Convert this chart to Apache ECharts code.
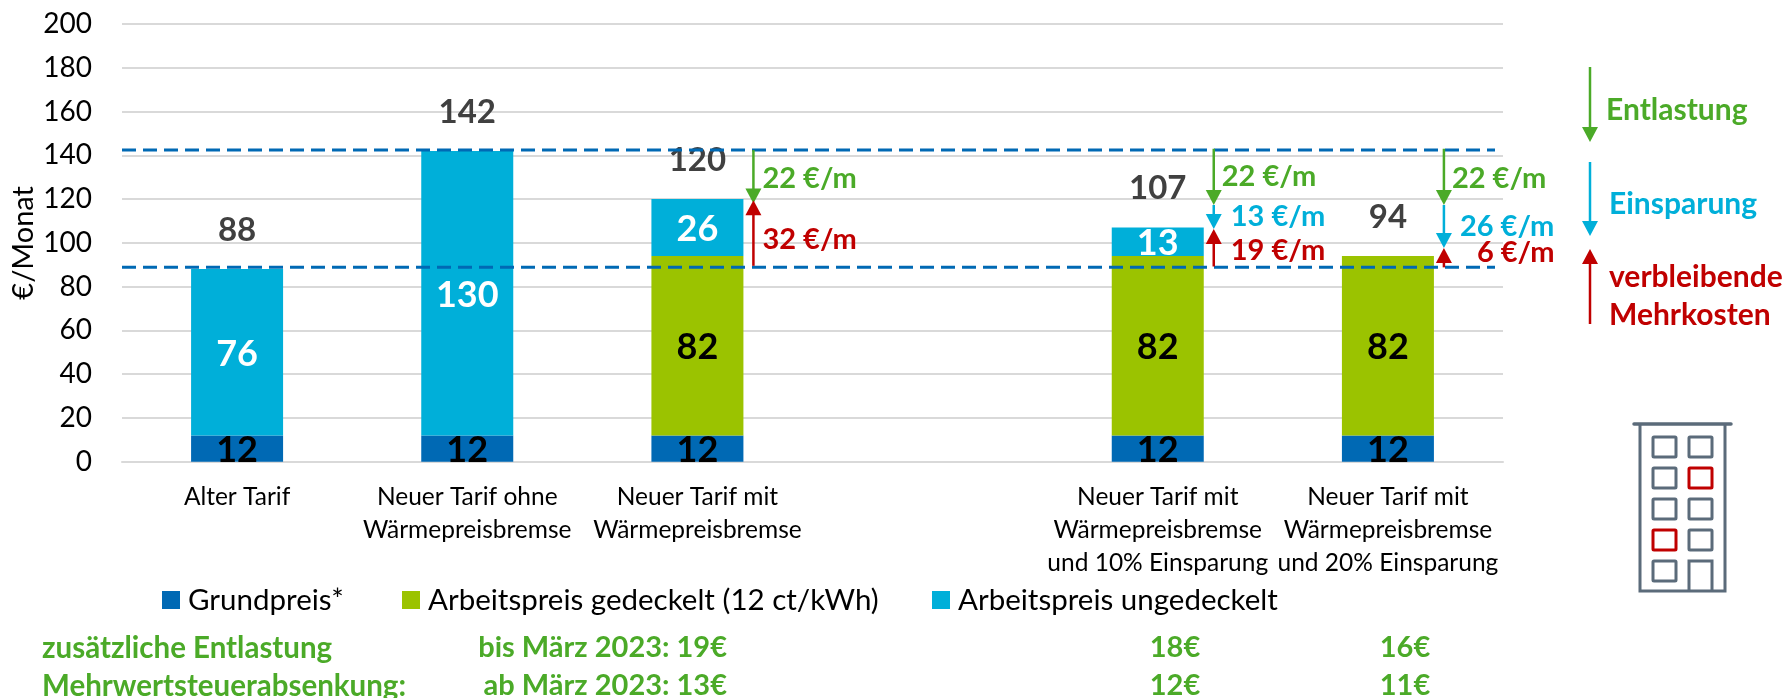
<!DOCTYPE html>
<html>
<head>
<meta charset="utf-8">
<style>
  html, body { margin: 0; padding: 0; background: #fff; }
  #chart { width: 1787px; height: 698px; }
</style>
</head>
<body>
<div id="chart"></div>
<script src="https://cdn.jsdelivr.net/npm/echarts@6/dist/echarts.min.js"></script>
<script>
// data
const categories = [
  'Alter Tarif',
  'Neuer Tarif ohne\nWärmepreisbremse',
  'Neuer Tarif mit\nWärmepreisbremse',
  '',
  'Neuer Tarif mit\nWärmepreisbremse\nund 10% Einsparung',
  'Neuer Tarif mit\nWärmepreisbremse\nund 20% Einsparung'
];
const grundpreis = [12, 12, 12, null, 12, 12];
const gedeckelt = [null, null, 82, null, 82, 82];
const ungedeckelt = [76, 130, 26, null, 13, null];
const totals = [88, 142, 120, null, 107, 94];
const yTicks = [0, 200, 20];
const refLines = [142.4, 88.9];

const arrowCats = [2, 2, 4, 4, 4, 5, 5, 5];
const arrowFrom = [142.4, 89.5, 143, 117.3, 89.2, 143, 117.3, 88.8];
const arrowTo = [118, 119.5, 117.3, 106.3, 106.3, 117.3, 97.6, 97.6];
const arrowKinds = ['e', 'm', 'e', 's', 'm', 'e', 's', 'm'];
const arrowTexts = ['22 €/m', '32 €/m', '22 €/m', '13 €/m', '19 €/m', '22 €/m', '26 €/m', '6 €/m'];

const reliefRow1 = ['bis März 2023: 19€', '18€', '16€'];
const reliefRow2 = ['ab März 2023: 13€', '12€', '11€'];

const FONT = 'Lato';
const GREEN = '#4BAA28', CYAN = '#00AFD9', RED = '#C00000', SLATE = '#5B6B7A';
const kindColor = { e: GREEN, s: CYAN, m: RED };

// layout of the arrow captions: dx from bar centre, dy from arrow middle
const captionDx = [65, 65, 64, 73, 73, 64, 72, 89];
const captionDy = [2, 7, 0, 0, 3, 2, 0, -5];

function arrowShape(x, y1, y2, color) {
  const dir = y2 > y1 ? 1 : -1;
  return [
    { type: 'line', shape: { x1: x, y1: y1, x2: x, y2: y2 - dir * 12 }, style: { stroke: color, lineWidth: 2.5 } },
    { type: 'polygon', shape: { points: [[x - 8, y2 - dir * 15], [x + 8, y2 - dir * 15], [x, y2]] }, style: { fill: color } }
  ];
}

function barLabel(color) {
  return { show: true, position: 'inside', offset: [0, 2], color: color, fontFamily: FONT, fontWeight: 'bold', fontSize: 36 };
}

function gText(text, x, y, color, size, extra) {
  return {
    type: 'text', x: x, y: y, silent: true,
    style: Object.assign({ text: text, fill: color, font: 'bold ' + size + 'px ' + FONT, textVerticalAlign: 'middle' }, extra || {})
  };
}

function rectStroke(x, y, w, h, color) {
  return { type: 'rect', shape: { x: x, y: y, width: w, height: h, r: 1 }, style: { fill: 'none', stroke: color, lineWidth: 3 } };
}

// building icon, bottom right
const windows = [];
[437, 468, 499, 530, 561].forEach(function (wy, r) {
  [1653, 1689].forEach(function (wx, c) {
    if (r === 4 && c === 1) return;
    const isRed = (r === 1 && c === 1) || (r === 3 && c === 0);
    windows.push(rectStroke(wx, wy, 23, 20, isRed ? RED : SLATE));
  });
});

const graphics = [
  { type: 'line', shape: { x1: 1634, y1: 424, x2: 1731, y2: 424 }, style: { stroke: SLATE, lineWidth: 3.5, lineCap: 'round' } },
  { type: 'polyline', shape: { points: [[1640, 424], [1640, 591], [1725, 591], [1725, 424]] }, style: { fill: 'none', stroke: SLATE, lineWidth: 3 } },
  { type: 'polyline', shape: { points: [[1689, 591], [1689, 561], [1712, 561], [1712, 591]] }, style: { fill: 'none', stroke: SLATE, lineWidth: 3 } }
].concat(windows);

// key on the right
[[1590, 67, 142, GREEN], [1590, 162, 236, CYAN], [1590, 324, 249, RED]].forEach(function (a) {
  arrowShape(a[0], a[1], a[2], a[3]).forEach(function (s) { graphics.push(s); });
});
graphics.push(gText('Entlastung', 1606, 110, GREEN, 30));
graphics.push(gText('Einsparung', 1609, 204, CYAN, 30));
graphics.push(gText('verbleibende', 1609, 277, RED, 30));
graphics.push(gText('Mehrkosten', 1609, 315, RED, 30));

// rows under the legend
graphics.push(gText('zusätzliche Entlastung', 42, 648, GREEN, 29.5));
graphics.push(gText('Mehrwertsteuerabsenkung:', 42, 686, GREEN, 29.5));
[reliefRow1, reliefRow2].forEach(function (row, i) {
  const y = 648 + i * 38;
  graphics.push(gText(row[0], 727, y, GREEN, 29, { textAlign: 'right' }));
  graphics.push(gText(row[1], 1175, y, GREEN, 29, { textAlign: 'center' }));
  graphics.push(gText(row[2], 1405, y, GREEN, 29, { textAlign: 'center' }));
});

function legendAt(name, left) {
  return {
    data: [name], left: left, top: 580, itemWidth: 18, itemHeight: 18, itemGap: 8, icon: 'rect',
    selectedMode: false,
    textStyle: { fontFamily: FONT, fontSize: 29.5, color: '#000', padding: [0, 0, 0, 3] }
  };
}

const chart = echarts.init(document.getElementById('chart'), null, { renderer: 'canvas' });
chart.setOption({
  animation: false,
  backgroundColor: '#fff',
  textStyle: { fontFamily: FONT },
  grid: { left: 122, right: 284, top: 24, bottom: 236.3, containLabel: false, outerBoundsMode: 'none' },
  legend: [
    legendAt('Grundpreis*', 157),
    legendAt('Arbeitspreis gedeckelt (12 ct/kWh)', 397),
    legendAt('Arbeitspreis ungedeckelt', 927)
  ],
  xAxis: {
    type: 'category',
    data: categories,
    axisTick: { show: false },
    axisLine: { lineStyle: { color: '#D9D9D9', width: 2 } },
    axisLabel: { interval: 0, margin: 19, fontFamily: FONT, fontSize: 24.5, lineHeight: 33, color: '#000', verticalAlign: 'top' }
  },
  yAxis: {
    type: 'value',
    min: yTicks[0],
    max: yTicks[1],
    interval: yTicks[2],
    name: '€/Monat',
    nameLocation: 'middle',
    nameGap: 84,
    nameMoveOverlap: false,
    nameTextStyle: { fontFamily: FONT, fontSize: 29, color: '#000' },
    axisLine: { show: false },
    axisTick: { show: false },
    axisLabel: { margin: 30, fontFamily: FONT, fontSize: 28, color: '#000' },
    splitLine: { lineStyle: { color: '#D9D9D9', width: 2 } }
  },
  graphic: graphics,
  series: [
    { name: 'Grundpreis*', type: 'bar', stack: 't', barWidth: 92, data: grundpreis, itemStyle: { color: '#0069B4' }, label: barLabel('#000') },
    { name: 'Arbeitspreis gedeckelt (12 ct/kWh)', type: 'bar', stack: 't', data: gedeckelt, itemStyle: { color: '#9BC300' }, label: barLabel('#000') },
    { name: 'Arbeitspreis ungedeckelt', type: 'bar', stack: 't', data: ungedeckelt, itemStyle: { color: CYAN }, label: barLabel('#fff') },
    {
      // totals above the bars
      type: 'custom', z: 5, clip: false,
      data: totals.map(function (v, i) { return v === null ? [i, null] : [i, v]; }).filter(function (d) { return d[1] !== null; }),
      renderItem: function (params, api) {
        const p = api.coord([api.value(0), api.value(1)]);
        return { type: 'text', style: { text: String(api.value(1)), x: p[0], y: p[1] - 39, fill: '#404040', font: 'bold 33px ' + FONT, textAlign: 'center', textVerticalAlign: 'middle' } };
      }
    },
    {
      // dashed reference lines
      type: 'custom', z: 6, clip: false,
      data: refLines.map(function (v) { return [0, v]; }),
      renderItem: function (params, api) {
        const y = api.coord([0, api.value(1)])[1];
        return {
          type: 'line',
          shape: { x1: params.coordSys.x, y1: y, x2: params.coordSys.x + params.coordSys.width - 8, y2: y },
          style: { stroke: '#0069B4', lineWidth: 3, lineDash: [14, 7] }
        };
      }
    },
    {
      // arrows and their captions
      type: 'custom', z: 7, clip: false,
      data: arrowCats.map(function (c, i) { return [c, arrowFrom[i], arrowTo[i], i]; }),
      renderItem: function (params, api) {
        const i = api.value(3);
        const a = api.coord([api.value(0), api.value(1)]);
        const b = api.coord([api.value(0), api.value(2)]);
        const color = kindColor[arrowKinds[i]];
        return {
          type: 'group',
          children: arrowShape(a[0] + 56, a[1], b[1], color).concat([{
            type: 'text',
            style: {
              text: arrowTexts[i], x: a[0] + captionDx[i], y: (a[1] + b[1]) / 2 + captionDy[i],
              fill: color, font: 'bold 29px ' + FONT, textVerticalAlign: 'middle'
            }
          }])
        };
      }
    }
  ]
});
</script>
</body>
</html>
